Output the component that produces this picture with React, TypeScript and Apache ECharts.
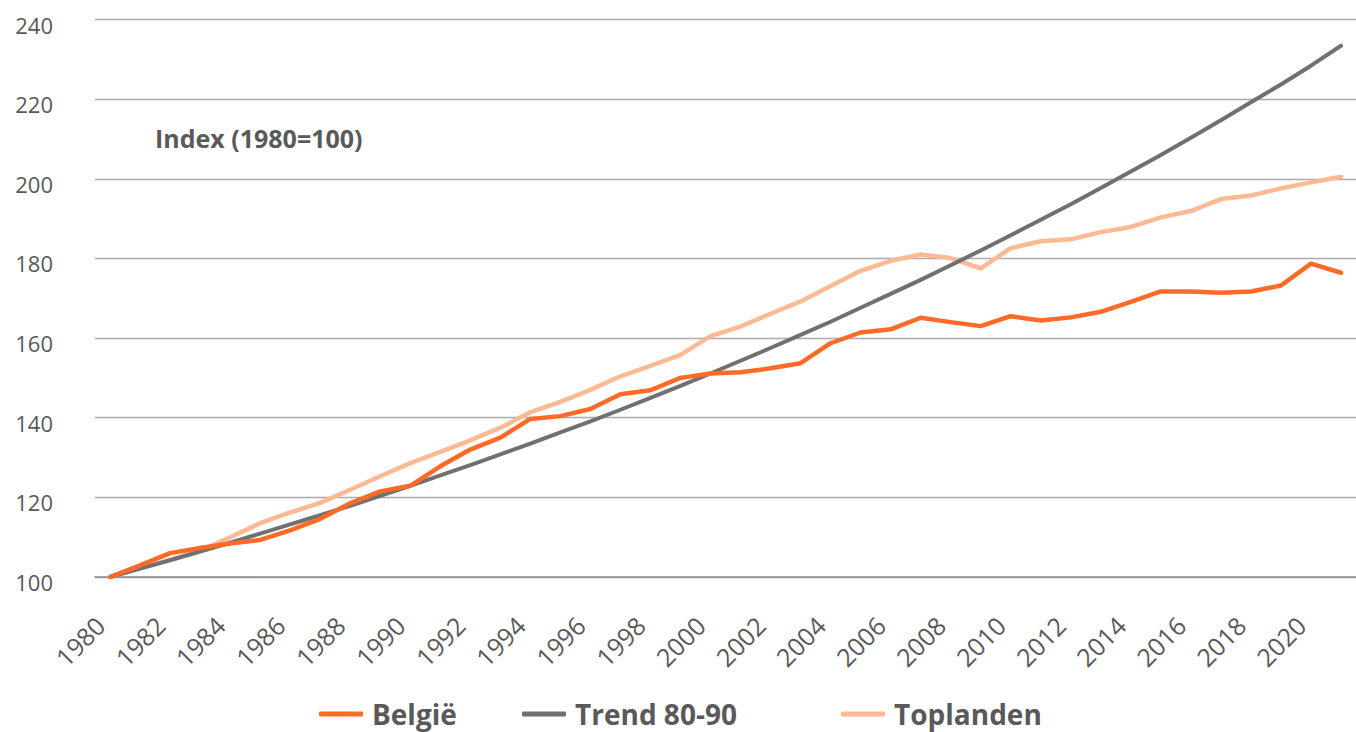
import React, { useEffect, useRef } from "react";
import * as echarts from "echarts";

const years: string[] = [
  "1980","1981","1982","1983","1984","1985","1986","1987","1988","1989",
  "1990","1991","1992","1993","1994","1995","1996","1997","1998","1999",
  "2000","2001","2002","2003","2004","2005","2006","2007","2008","2009",
  "2010","2011","2012","2013","2014","2015","2016","2017","2018","2019",
  "2020","2021",
];

const belgie: number[] = [
  100, 102.9, 106.0, 107.3, 108.4, 109.3, 111.7, 114.6, 118.5, 121.5,
  122.9, 127.8, 132.0, 135.0, 139.7, 140.4, 142.2, 145.9, 146.9, 150.0,
  151.1, 151.4, 152.4, 153.7, 158.7, 161.4, 162.2, 165.1, 164.0, 163.0,
  165.5, 164.4, 165.2, 166.6, 169.1, 171.7, 171.7, 171.4, 171.7, 173.2,
  178.7, 176.4,
];

const trend: number[] = [
  100, 102.1, 104.2, 106.4, 108.6, 110.9, 113.2, 115.5, 117.9, 120.4,
  122.9, 125.5, 128.1, 130.8, 133.5, 136.3, 139.1, 142.0, 145.0, 148.0,
  151.1, 154.3, 157.5, 160.8, 164.1, 167.6, 171.1, 174.6, 178.3, 182.0,
  185.8, 189.7, 193.6, 197.7, 201.8, 206.0, 210.3, 214.7, 219.2, 223.7,
  228.4, 233.4,
];

const toplanden: number[] = [
  100, 102.2, 104.3, 106.6, 110.0, 113.5, 116.2, 118.6, 121.9, 125.3,
  128.6, 131.4, 134.3, 137.5, 141.4, 144.0, 147.0, 150.4, 153.0, 155.8,
  160.5, 162.9, 166.1, 169.2, 173.1, 176.9, 179.4, 181.0, 180.1, 177.5,
  182.6, 184.3, 184.8, 186.6, 187.9, 190.3, 191.9, 194.9, 195.8, 197.6,
  199.1, 200.5,
];

const seriesNames = ["België", "Trend 80-90", "Toplanden"];
const yTicks = { min: 100, max: 240, interval: 20 };
const titleText = "Index (1980=100)";

const FONT = "'Open Sans', 'DejaVu Sans', sans-serif";
const TEXT_GRAY = "#595959";

export default function App() {
  const ref = useRef<HTMLDivElement>(null);

  useEffect(() => {
    document.body.style.margin = "0";
    if (!ref.current) return;
    const chart = echarts.init(ref.current, undefined, { renderer: "svg" });

    const legendBase = {
      top: 700,
      orient: "horizontal" as const,
      icon: "roundRect",
      itemWidth: 44,
      itemHeight: 5,
      padding: 0,
      textStyle: {
        fontFamily: FONT,
        fontSize: 28,
        fontWeight: "bold" as const,
        color: TEXT_GRAY,
        padding: [0, 0, 0, 4],
      },
    };

    const lineSeries = (name: string, data: number[], color: string, width: number, z: number) => ({
      name,
      type: "line" as const,
      data,
      showSymbol: false,
      symbol: "none",
      smooth: false,
      z,
      lineStyle: { color, width, cap: "round" as const, join: "round" as const },
      itemStyle: { color },
      emphasis: { disabled: true },
    });

    chart.setOption({
      animation: false,
      backgroundColor: "#ffffff",
      textStyle: { fontFamily: FONT },
      grid: { left: 95, top: 19.5, width: 1270, height: 557.5, containLabel: false },
      xAxis: {
        type: "category",
        data: years,
        boundaryGap: true,
        axisLine: { show: true, lineStyle: { color: "#8C8C8C", width: 1.5 } },
        axisTick: { show: false },
        splitLine: { show: false },
        axisLabel: {
          interval: 1,
          rotate: 45,
          margin: 34,
          fontSize: 25,
          fontFamily: FONT,
          color: TEXT_GRAY,
          padding: [0, 14, 0, 0],
        },
      },
      yAxis: {
        type: "value",
        min: yTicks.min,
        max: yTicks.max,
        interval: yTicks.interval,
        axisLine: { show: false },
        axisTick: { show: false },
        splitLine: { show: true, lineStyle: { color: "#ABABAB", width: 1.3 } },
        axisLabel: {
          margin: 42,
          fontSize: 22,
          fontFamily: FONT,
          color: TEXT_GRAY,
          verticalAlign: "top",
          lineHeight: 10,
        },
      },
      legend: [
        { ...legendBase, left: 319, data: [seriesNames[0]] },
        { ...legendBase, left: 522, data: [seriesNames[1]] },
        { ...legendBase, left: 841, data: [seriesNames[2]] },
      ],
      graphic: [
        {
          type: "text",
          x: 155,
          y: 138,
          style: {
            text: titleText,
            font: `bold 25px ${FONT}`,
            fill: TEXT_GRAY,
            verticalAlign: "middle",
            align: "left",
          },
        },
      ],
      series: [
        lineSeries(seriesNames[2], toplanden, "#FFB993", 4.5, 2),
        lineSeries(seriesNames[1], trend, "#707070", 4, 3),
        lineSeries(seriesNames[0], belgie, "#FF6B26", 4.5, 4),
      ],
    });

    return () => {
      chart.dispose();
    };
  }, []);

  return <div ref={ref} style={{ width: 1356, height: 732 }} />;
}
